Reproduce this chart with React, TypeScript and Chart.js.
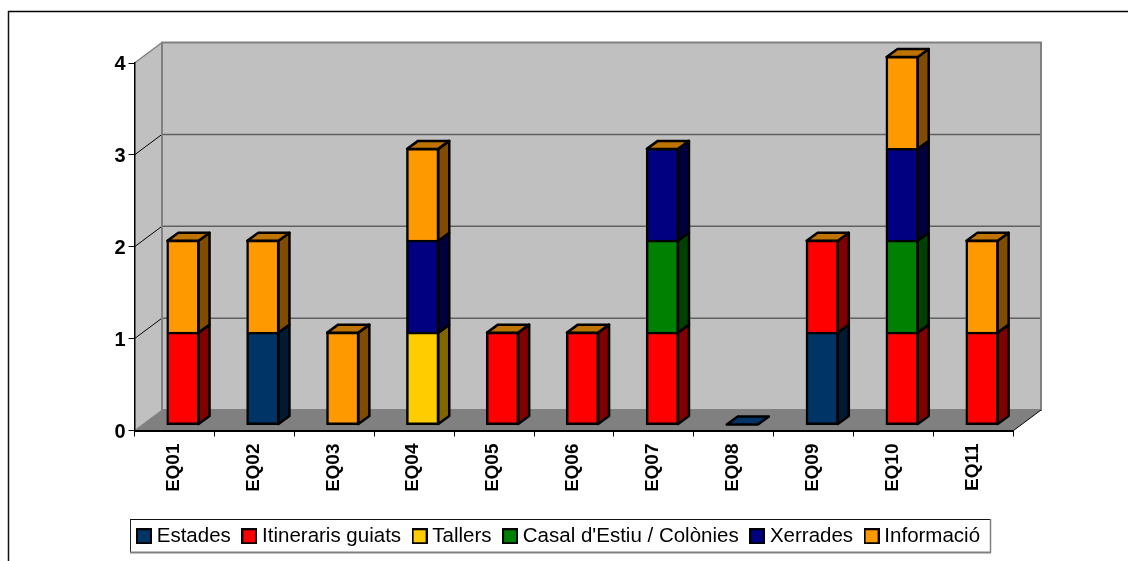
import React, { useEffect, useRef } from "react";
import { Chart, registerables } from "chart.js";

Chart.register(...registerables);

const categories = ["EQ01", "EQ02", "EQ03", "EQ04", "EQ05", "EQ06", "EQ07", "EQ08", "EQ09", "EQ10", "EQ11"];
const yTicks = [0, 1, 2, 3, 4];

const estades = [0, 1, 0, 0, 0, 0, 0, 0, 1, 0, 0];
const itineraris = [1, 0, 0, 0, 1, 1, 1, 0, 1, 1, 1];
const tallers = [0, 0, 0, 1, 0, 0, 0, 0, 0, 0, 0];
const casal = [0, 0, 0, 0, 0, 0, 1, 0, 0, 1, 0];
const xerrades = [0, 0, 0, 1, 0, 0, 1, 0, 0, 1, 0];
const informacio = [1, 1, 1, 1, 0, 0, 0, 0, 0, 1, 1];

const seriesNames = ["Estades", "Itineraris guiats", "Tallers", "Casal d'Estiu / Colònies", "Xerrades", "Informació"];
const seriesValues = [estades, itineraris, tallers, casal, xerrades, informacio];
const seriesColors = ["#003366", "#ff0000", "#ffcc00", "#008000", "#000080", "#ff9900"];

const FONT = "'Liberation Sans', Arial, sans-serif";
const WALL_DX = 27.5;
const WALL_DY = -20.5;
const BAR_SHIFT_X = 8.5;
const BAR_SHIFT_Y = -6;
const BAR_DX = 11;
const BAR_DY = -8;
const EDGE = 2.5;

function shade(hex: string, k: number) {
  const n = parseInt(hex.slice(1), 16);
  const r = Math.round(((n >> 16) & 255) * k);
  const g = Math.round(((n >> 8) & 255) * k);
  const b = Math.round((n & 255) * k);
  return `rgb(${r},${g},${b})`;
}

function poly(ctx: CanvasRenderingContext2D, pts: number[][], fill: string | null, stroke: string | null, lw = 1) {
  ctx.beginPath();
  pts.forEach((p, i) => (i ? ctx.lineTo(p[0], p[1]) : ctx.moveTo(p[0], p[1])));
  ctx.closePath();
  if (fill) {
    ctx.fillStyle = fill;
    ctx.fill();
  }
  if (stroke) {
    ctx.strokeStyle = stroke;
    ctx.lineWidth = lw;
    ctx.stroke();
  }
}

function line(ctx: CanvasRenderingContext2D, x1: number, y1: number, x2: number, y2: number, c: string, lw: number) {
  ctx.beginPath();
  ctx.moveTo(x1, y1);
  ctx.lineTo(x2, y2);
  ctx.strokeStyle = c;
  ctx.lineWidth = lw;
  ctx.stroke();
}

function swatch(color: string) {
  const c = document.createElement("canvas");
  c.width = 16;
  c.height = 16;
  const g = c.getContext("2d")!;
  g.fillStyle = color;
  g.fillRect(0, 0, 16, 16);
  g.strokeStyle = "#000";
  g.lineWidth = 2;
  g.strokeRect(1, 1, 14, 14);
  return c;
}

const chart3d = {
  id: "chart3d",
  afterLayout(chart: any) {
    const lg = chart.legend;
    if (lg) {
      lg.left = 125.5;
      lg.right = 1128;
      lg.top = 510;
      lg.bottom = 561;
    }
  },
  beforeDraw(chart: any) {
    const ctx = chart.ctx as CanvasRenderingContext2D;
    const { left, right, top, bottom } = chart.chartArea;
    const y = chart.scales.y;
    ctx.save();
    // page frame
    line(ctx, 8, 11.5, 1128, 11.5, "#000", 1.5);
    line(ctx, 8.5, 11, 8.5, 561, "#111", 1.5);
    // walls
    const backL = left + WALL_DX;
    const backR = right + WALL_DX;
    const backT = top + WALL_DY;
    const backB = bottom + WALL_DY;
    poly(ctx, [[left, top], [backL, backT], [backL, backB], [left, bottom]], "#c0c0c0", null);
    poly(ctx, [[backL, backT], [backR, backT], [backR, backB], [backL, backB]], "#c0c0c0", null);
    poly(ctx, [[left, bottom], [backL, backB], [backR, backB], [right, bottom]], "#808080", null);
    yTicks.slice(1, -1).forEach((v) => {
      const py = y.getPixelForValue(v);
      line(ctx, backL, py + WALL_DY, backR, py + WALL_DY, "#606060", 1.5);
      line(ctx, left, py, backL, py + WALL_DY, "#000", 1);
    });
    line(ctx, left, top, backL, backT, "#808080", 1.5);
    ctx.strokeStyle = "#808080";
    ctx.lineWidth = 2;
    ctx.strokeRect(backL, backT, backR - backL, backB - backT);
    line(ctx, right, bottom, backR, backB, "#000", 1);
    line(ctx, left, bottom, backL, backB, "#808080", 1);
    // legend frame
    ctx.fillStyle = "#fff";
    ctx.fillRect(130, 519, 860, 33);
    line(ctx, 130.5, 552, 130.5, 519.5, "#222", 1);
    line(ctx, 130, 519.5, 990, 519.5, "#111", 1);
    line(ctx, 130, 552.5, 991, 552.5, "#808080", 2);
    line(ctx, 990.5, 519, 990.5, 553, "#808080", 1.5);
    ctx.restore();
  },
  beforeDatasetsDraw(chart: any) {
    const ctx = chart.ctx as CanvasRenderingContext2D;
    ctx.save();
    ctx.translate(BAR_SHIFT_X, BAR_SHIFT_Y);
    ctx.lineJoin = "round";
    const lastSeries = chart.data.datasets.length - 1;
    chart.data.datasets.forEach((ds: any, di: number) => {
      const meta = chart.getDatasetMeta(di);
      meta.data.forEach((bar: any, i: number) => {
        const total = seriesValues.reduce((s, vals) => s + vals[i], 0);
        const { x, y, base, width } = bar.getProps(["x", "y", "base", "width"], true);
        const l = x - width / 2;
        const r = x + width / 2;
        const color = seriesColors[di];
        if (ds.data[i] > 0) {
          poly(ctx, [[r, y], [r + BAR_DX, y + BAR_DY], [r + BAR_DX, base + BAR_DY], [r, base]], shade(color, 0.5), "#000", EDGE);
        }
        // The cap belongs to the last series, even where it sits at zero on the stack.
        const emptyStack = total === 0 && di === 0;
        if ((total > 0 && di === lastSeries) || emptyStack) {
          const capColor = emptyStack ? color : shade(color, 0.75);
          poly(ctx, [[l, y], [l + BAR_DX, y + BAR_DY], [r + BAR_DX, y + BAR_DY], [r, y]], capColor, "#000", EDGE);
        }
      });
    });
  },
  afterDatasetsDraw(chart: any) {
    chart.ctx.restore();
  },
};

export default function App() {
  const ref = useRef<HTMLCanvasElement>(null);
  useEffect(() => {
    const isStackBottom = (c: any) => {
      for (let d = 0; d < c.datasetIndex; d++) {
        if (seriesValues[d][c.dataIndex] > 0) return false;
      }
      return true;
    };
    const chart = new Chart(ref.current!, {
      type: "bar",
      data: {
        labels: categories,
        datasets: seriesNames.map((name, i) => ({
          label: name,
          data: seriesValues[i],
          backgroundColor: seriesColors[i],
          borderColor: "#000",
          borderWidth: EDGE,
          borderSkipped: (c: any) => (isStackBottom(c) ? false : "bottom"),
          inflateAmount: 1,
          barPercentage: 0.39,
          categoryPercentage: 1,
          clip: false,
        })),
      } as any,
      options: {
        responsive: false,
        animation: false,
        events: [],
        layout: { padding: { left: 0, right: 114.5, top: 63, bottom: 24 } },
        plugins: {
          title: { display: false },
          tooltip: { enabled: false },
          legend: {
            display: true,
            position: "bottom",
            align: "start",
            labels: {
              usePointStyle: true,
              pointStyleWidth: 5,
              boxHeight: 16,
              padding: 16,
              color: "#000",
              font: { family: FONT, size: 20.5 },
              generateLabels: () =>
                seriesNames.map((name, i) => ({
                  text: name,
                  pointStyle: swatch(seriesColors[i]),
                  fillStyle: seriesColors[i],
                  strokeStyle: "#000",
                  lineWidth: 2,
                  hidden: false,
                  datasetIndex: i,
                })),
            },
          },
        },
        scales: {
          x: {
            stacked: true,
            afterFit: (s: any) => {
              s.height = 60;
            },
            border: { display: true, color: "#000", width: 2 },
            grid: { display: true, drawOnChartArea: false, drawTicks: true, tickLength: 6, tickColor: "#000", tickWidth: 1 },
            ticks: {
              maxRotation: 90,
              minRotation: 90,
              padding: 7,
              labelOffset: -1,
              color: "#000",
              font: { family: FONT, size: 19, weight: "bold" },
            },
          },
          y: {
            stacked: true,
            min: 0,
            max: 4,
            afterFit: (s: any) => {
              s.width = 134.5;
            },
            afterBuildTicks: (s: any) => {
              s.ticks = yTicks.map((value) => ({ value }));
            },
            border: { display: true, color: "#000", width: 1.5 },
            grid: { display: true, drawOnChartArea: false, drawTicks: true, tickLength: 6, tickColor: "#000", tickWidth: 1 },
            ticks: {
              padding: 3,
              labelOffset: 1.5,
              color: "#000",
              font: { family: FONT, size: 20, weight: "bold" },
            },
          },
        },
      },
      plugins: [chart3d],
    } as any);
    return () => chart.destroy();
  }, []);
  return <canvas ref={ref} width={1128} height={561} style={{ position: "absolute", left: 0, top: 0, width: 1128, height: 561 }} />;
}
